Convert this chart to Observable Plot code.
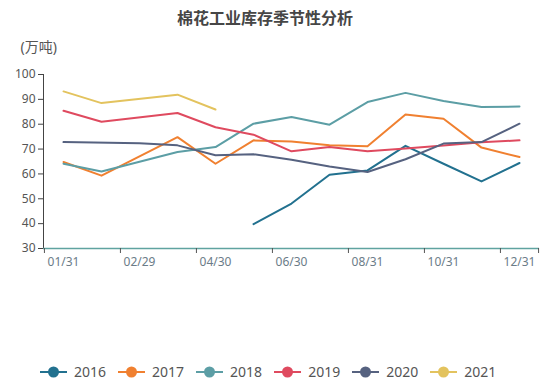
<!DOCTYPE html>
<html><head><meta charset="utf-8">
<script src="https://cdn.jsdelivr.net/npm/d3@7"></script>
<script src="https://cdn.jsdelivr.net/npm/@observablehq/plot@0.6"></script>
<style>
body{margin:0;background:#fff;font-family:"Noto Sans","Noto Sans CJK SC",sans-serif;}
#wrap{position:relative;width:550px;height:389px;overflow:hidden;background:#fff}
#title{height:34px;line-height:34px;width:530px;text-align:center;font-size:16px;font-weight:bold;color:#464646;font-family:"Noto Sans CJK SC",sans-serif}
#chart svg{display:block}
#legend{position:absolute;left:40px;top:362px;display:flex;align-items:center;font-size:14px;color:#555}
.item{display:flex;align-items:center;margin-right:12px}
.item svg{margin-right:7px}
</style></head>
<body><div id="wrap"><div id="title">棉花工业库存季节性分析</div><div id="chart"></div><div id="legend"></div></div>
<script>
const categories = ["01/31","02/28","02/29","03/31","04/30","05/31","06/30","07/31","08/31","09/30","10/31","11/30","12/31"];
const tickLabels = ["01/31","02/29","04/30","06/30","08/31","10/31","12/31"];
const yTicks = [30,40,50,60,70,80,90,100];
const years = ["2016","2017","2018","2019","2020","2021"];
const colors = ["#22718f","#f08030","#5c9ea5","#df4a5f","#566280","#e3c35e"];
const v2016 = [null,null,null,null,null,39.8,48.1,59.7,61.4,71.3,64.1,57.0,64.4];
const v2017 = [64.8,59.3,null,74.8,64.1,73.5,73.0,71.5,71.1,83.9,82.2,70.6,66.8];
const v2018 = [64.1,61.0,null,68.8,70.8,80.2,82.9,79.8,88.9,92.6,89.3,86.9,87.1];
const v2019 = [85.4,81.0,null,84.5,78.8,75.8,69.1,70.8,69.1,70.2,71.4,72.7,73.5];
const v2020 = [72.8,null,72.3,71.5,67.5,67.9,65.7,63.0,60.8,65.9,72.2,72.8,80.2];
const v2021 = [93.2,88.5,null,91.9,85.9,null,null,null,null,null,null,null,null];
const yLabel = "(万吨)";

const series = [v2016,v2017,v2018,v2019,v2020,v2021];
const rows = [];
series.forEach((vals, s) => vals.forEach((v, i) => { if (v != null) rows.push({year: years[s], date: categories[i], value: v}); }));

const W = 550, ML = 43, MR = 11;
const step = (W - ML - MR) / categories.length;
const font = '"Noto Sans","Noto Sans CJK SC",sans-serif';

const plot = Plot.plot({
  width: W, height: 260, marginLeft: ML, marginRight: MR, marginTop: 40, marginBottom: 46,
  style: {fontFamily: font, fontSize: "12px", color: "#555", background: "transparent"},
  x: {type: "point", domain: categories, padding: 0.5},
  y: {domain: [30, 100]},
  color: {domain: years, range: colors},
  marks: [
    Plot.frame({anchor: "left", stroke: "#444"}),
    Plot.axisY(yTicks, {tickSize: 5, tickPadding: 3, label: null, stroke: "#444", fill: "#555"}),
    Plot.ruleY([30], {stroke: "#5fa3a0", strokeWidth: 1.6}),
    Plot.axisX(tickLabels, {tickSize: 0, tickPadding: 9, label: null, fill: "#6b7c88"}),
    Plot.axisX(tickLabels, {tickSize: 5, dx: -step / 2, tickFormat: () => "", label: null, stroke: "#555"}),
    Plot.axisX([categories[categories.length - 1]], {tickSize: 5, dx: step / 2, tickFormat: () => "", label: null, stroke: "#555"}),
    Plot.lineY(rows, {x: "date", y: "value", z: "year", stroke: "year", strokeWidth: 2}),
    Plot.text([yLabel], {frameAnchor: "top-left", dx: -23, dy: -27, textAnchor: "start", lineAnchor: "middle", fontSize: 14, fill: "#555"})
  ]
});
document.getElementById("chart").appendChild(plot);

const cs = plot.scale("color");
const leg = document.getElementById("legend");
years.forEach(y => {
  const c = cs.apply(y);
  const it = document.createElement("div");
  it.className = "item";
  it.innerHTML = `<svg width="27" height="14"><line x1="0" y1="7" x2="27" y2="7" stroke="${c}" stroke-width="2"/><circle cx="13.5" cy="7" r="5.5" fill="${c}"/></svg><span>${y}</span>`;
  leg.appendChild(it);
});
</script></body></html>
